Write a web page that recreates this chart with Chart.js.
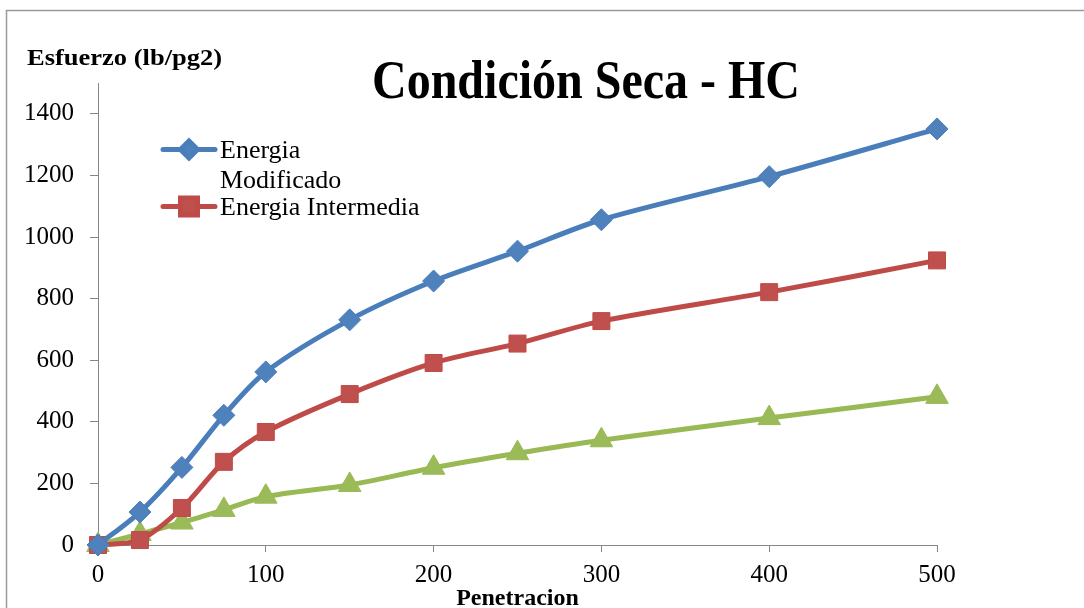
<!DOCTYPE html>
<html>
<head>
<meta charset="utf-8">
<script src="https://cdn.jsdelivr.net/npm/chart.js@4/dist/chart.umd.min.js"></script>
<style>
  html, body { margin: 0; padding: 0; background: #ffffff; }
  canvas { display: block; }
</style>
</head>
<body>
<canvas id="grafico" width="1084" height="608"></canvas>
<script>
// Penetración (x) y esfuerzo en lb/pg2 (y) para cada energía de compactación
const penetracion = [0, 25, 50, 75, 100, 150, 200, 250, 300, 400, 500];
const energiaModificado = [0, 107, 252, 421, 562, 731, 857, 954, 1056, 1196, 1351];
const energiaIntermedia = [0, 16, 120, 270, 367, 490, 591, 654, 727, 821, 924];
const serie3 = [0, 36, 73, 114, 157, 195, 251, 298, 340, 412, 481];

const ticksX = [0, 100, 200, 300, 400, 500];
const ticksY = [0, 200, 400, 600, 800, 1000, 1200, 1400];

const tituloGrafico = 'Condición Seca - HC';
const tituloEjeY = 'Esfuerzo (lb/pg2)';
const tituloEjeX = 'Penetracion';

const SERIF = '"Liberation Serif", "Times New Roman", Times, serif';
const GRIS = '#868686';

function puntos(valores) {
  return penetracion.map((x, i) => ({ x: x, y: valores[i] }));
}

// Marco, títulos y leyenda dibujados sobre el lienzo
const decoracion = {
  id: 'decoracion',
  afterDraw(chart) {
    const ctx = chart.ctx;
    ctx.save();

    // marco exterior
    ctx.strokeStyle = '#9a9a9a';
    ctx.lineWidth = 1.5;
    ctx.beginPath();
    ctx.moveTo(6.5, 700);
    ctx.lineTo(6.5, 10.5);
    ctx.lineTo(1200, 10.5);
    ctx.stroke();

    // título principal
    ctx.fillStyle = '#000000';
    ctx.textAlign = 'center';
    ctx.textBaseline = 'alphabetic';
    ctx.save();
    ctx.translate(586, 98);
    ctx.scale(1, 1.16);
    ctx.font = 'bold 48px ' + SERIF;
    ctx.fillText(tituloGrafico, 0, 0);
    ctx.restore();

    // título del eje Y
    ctx.textAlign = 'left';
    ctx.save();
    ctx.translate(27, 65);
    ctx.scale(1, 0.88);
    ctx.font = 'bold 26.5px ' + SERIF;
    ctx.fillText(tituloEjeY, 0, 0);
    ctx.restore();

    // leyenda (sólo las dos primeras series)
    ctx.font = '26px ' + SERIF;
    const maxAncho = 206;
    let base = 158;
    chart.data.datasets.forEach((ds) => {
      if (!ds.enLeyenda) return;
      // partir el texto en líneas según el ancho disponible
      const palabras = ds.label.split(' ');
      const lineas = [];
      let actual = '';
      palabras.forEach((p) => {
        const prueba = actual ? actual + ' ' + p : p;
        if (actual && ctx.measureText(prueba).width > maxAncho) {
          lineas.push(actual);
          actual = p;
        } else {
          actual = prueba;
        }
      });
      lineas.push(actual);

      const ym = base - 8.5;
      ctx.strokeStyle = ds.borderColor;
      ctx.lineWidth = ds.borderWidth;
      ctx.lineCap = 'round';
      ctx.beginPath();
      ctx.moveTo(163, ym);
      ctx.lineTo(215, ym);
      ctx.stroke();
      ctx.fillStyle = ds.pointBackgroundColor;
      ctx.strokeStyle = ds.pointBorderColor;
      Chart.helpers.drawPoint(ctx, {
        pointStyle: ds.pointStyle,
        radius: ds.legendRadius,
        rotation: 0,
        borderWidth: 1
      }, 189, ym);

      ctx.fillStyle = '#000000';
      lineas.forEach((l, k) => {
        ctx.fillText(l, 220, base + k * 30);
      });
      base += (lineas.length - 1) * 30 + 27;
    });

    ctx.restore();
  }
};

const fuenteTicks = { family: SERIF, size: 25 };

function comun(color, relleno, estilo, radio, radioLeyenda) {
  return {
    borderColor: color,
    backgroundColor: relleno,
    pointBackgroundColor: relleno,
    pointBorderColor: color,
    pointStyle: estilo,
    pointRadius: radio,
    pointBorderWidth: 1,
    legendRadius: radioLeyenda,
    borderWidth: 5,
    tension: 0.3,
    clip: false
  };
}

new Chart(document.getElementById('grafico'), {
  type: 'line',
  data: {
    datasets: [
      Object.assign({
        label: 'Energia Modificado',
        data: puntos(energiaModificado),
        enLeyenda: true
      }, comun('#4A7EBB', '#4F81BD', 'rectRot', 11, 8.5)),
      Object.assign({
        label: 'Energia Intermedia',
        data: puntos(energiaIntermedia),
        enLeyenda: true
      }, comun('#BE4B48', '#C0504D', 'rect', 12, 12)),
      Object.assign({
        label: 'Serie 3',
        data: puntos(serie3),
        enLeyenda: false
      }, comun('#98B954', '#9BBB59', 'triangle', 13, 13))
    ]
  },
  options: {
    responsive: false,
    animation: false,
    layout: { padding: { top: 83, right: 147, left: 0, bottom: 0 } },
    plugins: {
      legend: { display: false },
      title: { display: false },
      tooltip: { enabled: false }
    },
    scales: {
      x: {
        type: 'linear',
        min: 0,
        max: 500,
        afterBuildTicks: (s) => { s.ticks = ticksX.map((v) => ({ value: v })); },
        afterFit: (s) => { s.height = 63; },
        grid: { drawOnChartArea: false, color: GRIS, tickLength: 7, lineWidth: 1 },
        border: { color: GRIS, width: 1 },
        ticks: {
          font: fuenteTicks, color: '#000000', padding: 8, maxRotation: 0,
          callback: (v) => String(v)
        },
        title: {
          display: true,
          text: tituloEjeX,
          font: { family: SERIF, size: 24, weight: 'bold' },
          color: '#000000',
          padding: { top: 0, bottom: -5 }
        }
      },
      y: {
        min: 0,
        max: 1500,
        afterBuildTicks: (s) => { s.ticks = ticksY.map((v) => ({ value: v })); },
        afterFit: (s) => { s.width = 98; },
        grid: { drawOnChartArea: false, color: GRIS, tickLength: 8, lineWidth: 1 },
        border: { color: GRIS, width: 1 },
        ticks: {
          font: fuenteTicks, color: '#000000', padding: 16,
          callback: (v) => String(v)
        }
      }
    }
  },
  plugins: [decoracion]
});
</script>
</body>
</html>
